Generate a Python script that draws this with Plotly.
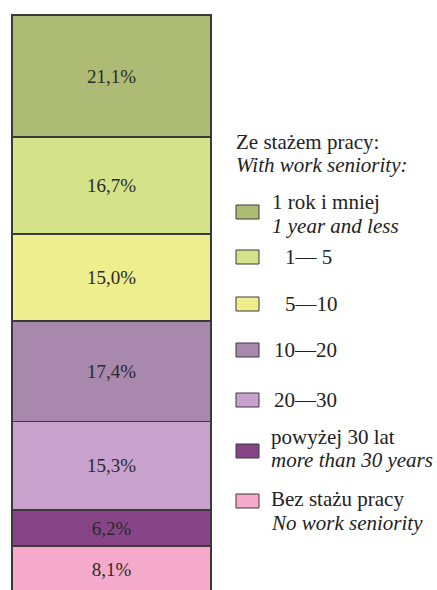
import plotly.graph_objects as go

# Data (bottom to top of the stacked bar)
categories_pl = ["Bez stażu pracy", "powyżej 30 lat", "20—30", "10—20", "5—10", "1— 5", "1 rok i mniej"]
categories_en = ["No work seniority", "more than 30 years", "", "", "", "", "1 year and less"]
values = [8.1, 6.2, 15.3, 17.4, 15.0, 16.7, 21.1]
value_labels = ["8,1%", "6,2%", "15,3%", "17,4%", "15,0%", "16,7%", "21,1%"]
colors = ["#F5AACB", "#874486", "#C8A2CD", "#A888AC", "#EEEE8E", "#D4E38A", "#AEBB74"]

legend_title_pl = "Ze stażem pracy:"
legend_title_en = "With work seniority:"

W, H = 437, 590
FONT = "Liberation Serif"

fig = go.Figure()
for i, v in enumerate(values):
    fig.add_trace(go.Bar(
        x=[0], y=[v], width=1,
        marker=dict(color=colors[i], line=dict(color="#3a3a3a", width=1.5)),
        text=[value_labels[i]], textposition="inside", insidetextanchor="middle",
        textangle=0, textfont=dict(family=FONT, size=19, color="#2a2a2a"),
        showlegend=False, hoverinfo="skip",
    ))

def px_x(p):
    return p / W

def px_y(p):
    return 1 - p / H

shapes = []
annotations = []

def add_text(x, y, txt, italic=False, size=21):
    annotations.append(dict(
        x=px_x(x), y=px_y(y), xref="paper", yref="paper", xanchor="left", yanchor="middle",
        text=("<i>%s</i>" % txt) if italic else txt, showarrow=False,
        font=dict(family=FONT, size=size, color="#222222"),
    ))

add_text(234, 142, legend_title_pl)
add_text(234, 165, legend_title_en, italic=True)

# legend entries, top to bottom: (index, box center y, text x, line1 y, line2 y)
entries = [
    (6, 212, 270, 202, 226),
    (5, 257, 283, 257, None),
    (4, 304, 283, 304, None),
    (3, 350, 272, 350, None),
    (2, 400, 272, 400, None),
    (1, 451, 269, 437, 460),
    (0, 501, 269, 499, 523),
]
for idx, by, tx, ty1, ty2 in entries:
    shapes.append(dict(
        type="rect", xref="paper", yref="paper",
        x0=px_x(236), x1=px_x(259), y0=px_y(by - 7), y1=px_y(by + 7),
        fillcolor=colors[idx], line=dict(color="#3a3a3a", width=1),
    ))
    add_text(tx, ty1, categories_pl[idx])
    if ty2 is not None:
        add_text(tx, ty2, categories_en[idx], italic=True)

# y scale: bar top at 15 px, bottom (0%) at ~593 px
k = 578 / 99.8
hi = 99.8 + 15 / k
lo = hi - H / k

# x scale: bar from 12 px to 211 px
bw = 199
a = -0.5 - 12 / bw
b = a + W / bw

fig.update_layout(
    width=W, height=H, barmode="stack",
    margin=dict(l=0, r=0, t=0, b=0),
    paper_bgcolor="white", plot_bgcolor="white",
    xaxis=dict(range=[a, b], visible=False, fixedrange=True),
    yaxis=dict(range=[lo, hi], visible=False, fixedrange=True),
    shapes=shapes, annotations=annotations,
    showlegend=False,
)

fig.write_html(
    "out.html",
    config={"displayModeBar": False},
    post_script="document.body.style.margin='0';document.body.style.overflow='hidden';",
)
